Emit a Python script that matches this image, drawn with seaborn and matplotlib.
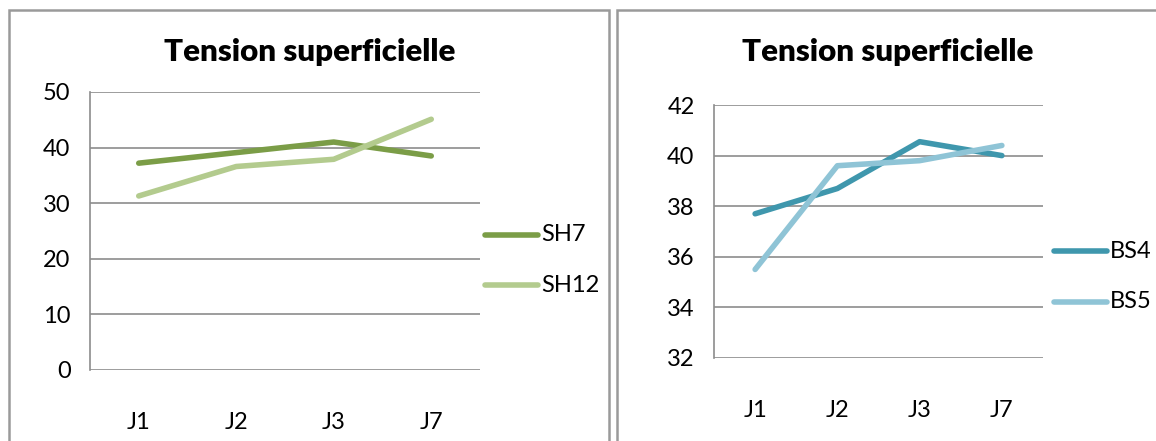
import matplotlib
matplotlib.use("Agg")
import matplotlib.pyplot as plt
from matplotlib.patches import Rectangle
import pandas as pd
import seaborn as sns

# Data
days = ["J1", "J2", "J3", "J7"]
sh7 = [37.2, 39.1, 41.0, 38.5]
sh12 = [31.3, 36.6, 37.9, 45.1]
bs4 = [37.7, 38.7, 40.55, 40.0]
bs5 = [35.5, 39.6, 39.8, 40.4]

title = "Tension superficielle"

sns.set_theme(style="white")
plt.rcParams["font.family"] = ["Lato", "DejaVu Sans"]
plt.rcParams["text.color"] = "black"

W, H = 1156, 441
fig = plt.figure(figsize=(W / 100, H / 100), dpi=100)
fig.patch.set_facecolor("white")

grid_col = "#8c8c8c"


def px_axes(x0, x1, y0, y1):
    return fig.add_axes([x0 / W, 1 - y1 / H, (x1 - x0) / W, (y1 - y0) / H])


def panel(ax, series, names, colors, ylim, yticks):
    df = pd.DataFrame({
        "day": days * len(series),
        "value": [v for s in series for v in s],
        "serie": [n for n, s in zip(names, series) for _ in s],
    })
    sns.lineplot(data=df, x="day", y="value", hue="serie",
                 palette=dict(zip(names, colors)), linewidth=4.0,
                 ax=ax, legend=False, sort=False)
    ax.set_xlim(-0.5, 3.5)
    ax.set_ylim(*ylim)
    ax.set_yticks(yticks)
    ax.set_xlabel("")
    ax.set_ylabel("")
    for y in yticks:
        ax.axhline(y, color=grid_col, lw=1.2, zorder=0)
    for s in ["top", "right", "bottom"]:
        ax.spines[s].set_visible(False)
    ax.spines["left"].set_color(grid_col)
    ax.spines["left"].set_linewidth(1.2)
    ax.tick_params(axis="both", length=0, labelsize=17, colors="black")
    ax.tick_params(axis="y", pad=14)
    ax.tick_params(axis="x", pad=30)
    ax.set_facecolor("none")


# Left chart
axL = px_axes(90, 480, 92, 370)
panel(axL, [sh7, sh12], ["SH7", "SH12"], ["#7b9d47", "#b3cb8e"],
      (0, 50), [0, 10, 20, 30, 40, 50])

# Right chart
axR = px_axes(714, 1043, 105, 358)
panel(axR, [bs4, bs5], ["BS4", "BS5"], ["#3f97ad", "#8fc4d6"],
      (32, 42), [32, 34, 36, 38, 40, 42])

# Titles
for cx in (310, 888):
    fig.text(cx / W, 1 - 52 / H, title, ha="center", va="center",
             fontsize=22.5, fontweight="heavy", color="black")

# Legends
for names, colors, x0, ys in [
    (["SH7", "SH12"], ["#7b9d47", "#b3cb8e"], 485, [235, 285]),
    (["BS4", "BS5"], ["#3f97ad", "#8fc4d6"], 1054, [251, 302]),
]:
    for n, c, y in zip(names, colors, ys):
        fig.add_artist(plt.Line2D([x0 / W, (x0 + 53) / W],
                                  [1 - y / H, 1 - y / H],
                                  color=c, lw=4.0, solid_capstyle="round"))
        fig.text((x0 + 56) / W, 1 - y / H, n, ha="left", va="center",
                 fontsize=17, color="black")

# Chart frames
frame_col = "#9a9a9a"
fig.add_artist(Rectangle((9 / W, -0.1), 600 / W, 1.1 - 10 / H,
                         transform=fig.transFigure, fill=False,
                         edgecolor=frame_col, lw=1.8))
fig.add_artist(Rectangle((617 / W, -0.1), 600 / W, 1.1 - 10 / H,
                         transform=fig.transFigure, fill=False,
                         edgecolor=frame_col, lw=1.8))

fig.savefig("out.png", dpi=100, facecolor="white")
